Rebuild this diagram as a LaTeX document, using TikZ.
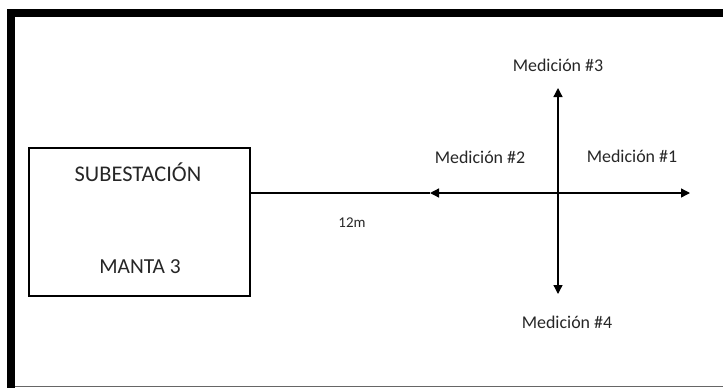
\documentclass[tikz,border=0pt]{standalone}
\usepackage{fontspec}
\setmainfont{Carlito}
\usetikzlibrary{arrows.meta}

\begin{document}
\begin{tikzpicture}[x=1bp, y=-1bp,
    label/.style={font=\fontsize{18}{20}\selectfont, text=black!85, inner sep=0pt},
    measure/.style={line width=1.3bp, -{Triangle[length=9bp, width=9bp]}}]
    \useasboundingbox (0,0) rectangle (723,388);

    % Frame
    \fill[black] (7,9) rectangle (723,17);
    \fill[black] (7,9) rectangle (15,388);
    \draw[black!60, line width=1.2bp] (15,386.5) -- (723,386.5);

    % Substation
    \node[draw, line width=1.1bp, minimum width=221bp, minimum height=148bp, inner sep=0pt] (sub) at (139.5,222) {};
    \node[label, font=\fontsize{22.5}{24}\selectfont] (subname) at (138,172) {SUBESTACIÓN};
    \node[label, font=\fontsize{21.5}{24}\selectfont] (subnum) at (140,267) {MANTA 3};

    % Measuring points
    \coordinate (c) at (558,193);
    \coordinate (e) at (690,193);
    \coordinate (w) at (430,193);
    \coordinate (n) at (558,88);
    \coordinate (s) at (558,294);

    \draw[line width=1.1bp] (sub.east |- c) -- (w);
    \draw[measure] (c) -- (e);
    \draw[measure] (c) -- (w);
    \draw[measure] (c) -- (n);
    \draw[measure] (c) -- (s);

    \node[label] (m1) at (632,156) {Medición \#1};
    \node[label] (m2) at (480,157) {Medición \#2};
    \node[label] (m3) at (558,65) {Medición \#3};
    \node[label] (m4) at (567,322) {Medición \#4};
    \node[label, font=\fontsize{15}{17}\selectfont] (dist) at (352,223) {12m};
\end{tikzpicture}
\end{document}
